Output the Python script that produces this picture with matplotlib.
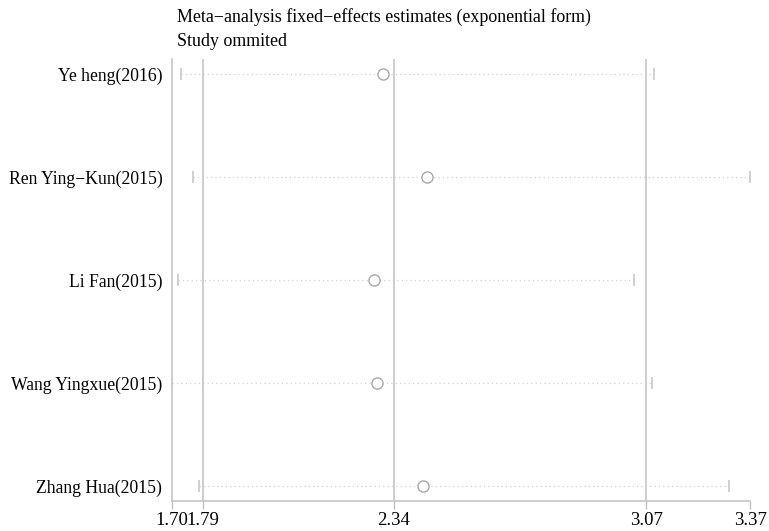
import numpy as np
import matplotlib
matplotlib.use('Agg')
import matplotlib.pyplot as plt

plt.rcParams['font.family'] = ['Liberation Serif', 'DejaVu Serif']

studies = ['Ye heng(2016)', 'Ren Ying\u2212Kun(2015)', 'Li Fan(2015)',
           'Wang Yingxue(2015)', 'Zhang Hua(2015)']
estimate = [2.31, 2.437, 2.284, 2.292, 2.425]
lower = [1.726, 1.76, 1.717, 1.70, 1.778]
upper = [3.093, 3.37, 3.035, 3.087, 3.31]
ref_lines = [1.79, 2.34, 3.07]
xticks = [1.70, 1.79, 2.34, 3.07, 3.37]

gray = '#c0c0c0'

fig = plt.figure(figsize=(7.69, 5.31), dpi=100)
ax = fig.add_axes([0.2237, 0.0565, 0.9753 - 0.2237, 0.8889 - 0.0565])

y = np.arange(1, len(studies) + 1)

for xv in ref_lines:
    ax.axvline(xv, color=gray, lw=1.1, zorder=1)

ax.hlines(y, lower, upper, colors='#d0d0d0', linestyles=(0, (1, 2.5)), lw=0.9, zorder=2)
ax.plot(lower, y, ls='none', marker='|', ms=9, mew=1.2, color='#c8c8c8', zorder=3)
ax.plot(upper, y, ls='none', marker='|', ms=9, mew=1.2, color='#c8c8c8', zorder=3)
ax.plot(estimate, y, ls='none', marker='o', ms=8, mfc='white', mec='#a8a8a8', mew=1.0, zorder=4)

ax.set_xlim(1.70, 3.37)
ax.set_ylim(5.146, 0.854)
ax.set_yticks(y)
ax.set_yticklabels(studies, fontsize=12.7)
ax.tick_params(axis='y', length=0, pad=7)
ax.set_xticks(xticks)
ax.set_xticklabels(['%.2f' % v for v in xticks], fontsize=13.5)
ax.tick_params(axis='x', length=6, width=1, color=gray, pad=2)

for s in ['top', 'right']:
    ax.spines[s].set_visible(False)
ax.spines['left'].set_color(gray)
ax.spines['bottom'].set_color(gray)
ax.spines['left'].set_linewidth(1.1)
ax.spines['bottom'].set_linewidth(1.1)

fig.text(177 / 769, 1 - 17 / 531, 'Meta\u2212analysis fixed\u2212effects estimates (exponential form)',
         fontsize=12.9, va='center', ha='left')
fig.text(177 / 769, 1 - 42 / 531, 'Study ommited', fontsize=12.9, va='center', ha='left')

fig.savefig('out.png', dpi=100)
